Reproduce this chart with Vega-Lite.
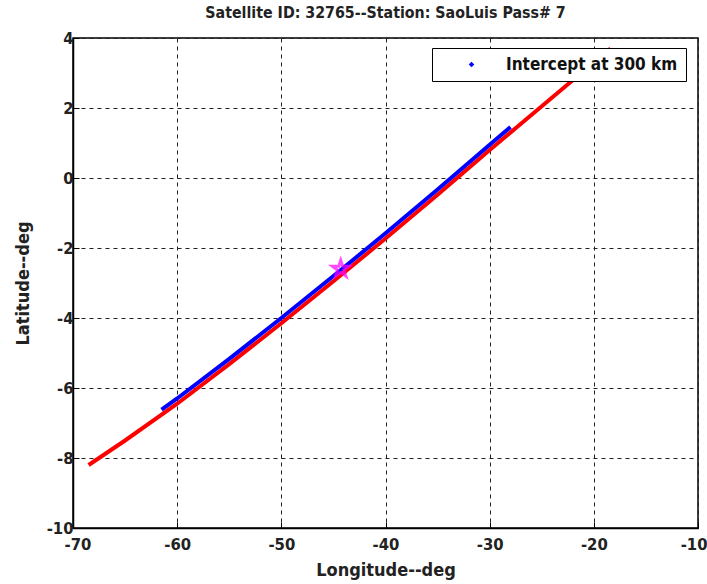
{
  "$schema": "https://vega.github.io/schema/vega-lite/v6.json",
  "width": 625,
  "height": 490,
  "autosize": {"type": "none"},
  "padding": {"left": 73, "top": 38, "right": 9, "bottom": 56},
  "background": "white",
  "title": {"text": "Satellite ID: 32765--Station: SaoLuis Pass# 7", "font": "DejaVu Sans Condensed, Liberation Sans", "fontSize": 15.8, "fontWeight": "bold", "color": "#222222", "offset": 8},
  "config": {
    "view": {"stroke": "black", "strokeWidth": 1.5},
    "axis": {
      "labelFont": "DejaVu Sans Condensed, Liberation Sans", "labelFontSize": 16.5, "labelFontWeight": "bold", "labelColor": "#222222",
      "titleFont": "DejaVu Sans Condensed, Liberation Sans", "titleFontSize": 18, "titleFontWeight": "bold", "titleColor": "#222222",
      "gridColor": "#222222", "gridDash": [4, 4], "gridWidth": 1, "gridOpacity": 1,
      "domainColor": "black", "domainWidth": 1.5, "tickColor": "black", "tickSize": -6, "tickWidth": 1,
      "labelExpr": "'' + datum.value", "labelOverlap": false
    }
  },
  "datasets": {
    "red": [
      {"lon": -68.5, "lat": -8.2},
      {"lon": -65.0, "lat": -7.5},
      {"lon": -60.0, "lat": -6.45},
      {"lon": -55.0, "lat": -5.32},
      {"lon": -50.0, "lat": -4.15},
      {"lon": -45.0, "lat": -2.95},
      {"lon": -40.0, "lat": -1.73},
      {"lon": -35.0, "lat": -0.48},
      {"lon": -30.0, "lat": 0.8},
      {"lon": -25.0, "lat": 2.05},
      {"lon": -20.0, "lat": 3.3},
      {"lon": -18.4, "lat": 3.7}
    ],
    "blue": [
      {"lon": -61.5, "lat": -6.62, "series": "Intercept at 300 km"},
      {"lon": -60.0, "lat": -6.3, "series": "Intercept at 300 km"},
      {"lon": -55.0, "lat": -5.17, "series": "Intercept at 300 km"},
      {"lon": -50.0, "lat": -4.0, "series": "Intercept at 300 km"},
      {"lon": -45.0, "lat": -2.8, "series": "Intercept at 300 km"},
      {"lon": -40.0, "lat": -1.58, "series": "Intercept at 300 km"},
      {"lon": -35.0, "lat": -0.33, "series": "Intercept at 300 km"},
      {"lon": -30.0, "lat": 0.95, "series": "Intercept at 300 km"},
      {"lon": -28.0, "lat": 1.46, "series": "Intercept at 300 km"}
    ],
    "star": [{"lon": -44.3, "lat": -2.6}]
  },
  "layer": [
    {
      "data": {"name": "red"},
      "mark": {"type": "line", "color": "red", "strokeWidth": 4, "clip": true},
      "encoding": {
        "x": {"field": "lon", "type": "quantitative", "scale": {"domain": [-70, -10], "nice": false, "zero": false}, "axis": {"title": "Longitude--deg", "values": [-70, -60, -50, -40, -30, -20, -10], "labelPadding": 14, "titlePadding": 9, "labelFlush": true, "labelFlushOffset": 9}},
        "y": {"field": "lat", "type": "quantitative", "scale": {"domain": [-10, 4], "nice": false, "zero": false}, "axis": {"title": "Latitude--deg", "values": [-10, -8, -6, -4, -2, 0, 2, 4], "labelPadding": 6, "titlePadding": 14, "labelFlush": false}}
      }
    },
    {
      "data": {"name": "blue"},
      "mark": {"type": "line", "strokeWidth": 4},
      "encoding": {
        "x": {"field": "lon", "type": "quantitative"},
        "y": {"field": "lat", "type": "quantitative"},
        "color": {"field": "series", "type": "nominal", "scale": {"domain": ["Intercept at 300 km"], "range": ["blue"]},
          "legend": {"title": null, "orient": "none", "legendX": 359, "legendY": 10, "symbolType": "diamond", "symbolSize": 30, "symbolStrokeWidth": 0, "symbolFillColor": "blue",
            "labelFont": "DejaVu Sans Condensed, Liberation Sans", "labelFontSize": 17, "labelFontWeight": "bold", "labelColor": "#111111", "labelLimit": 400,
            "strokeColor": "black", "fillColor": "white", "padding": 8, "symbolOffset": 23, "labelOffset": 26}}
      }
    },
    {
      "data": {"name": "star"},
      "mark": {"type": "point", "shape": "M0,-1L0.2245,-0.309L0.951,-0.309L0.363,0.118L0.588,0.809L0,0.382L-0.588,0.809L-0.363,0.118L-0.951,-0.309L-0.2245,-0.309Z", "size": 300, "filled": false, "stroke": "magenta", "strokeWidth": 3},
      "encoding": {
        "x": {"field": "lon", "type": "quantitative"},
        "y": {"field": "lat", "type": "quantitative"}
      }
    }
  ]
}
